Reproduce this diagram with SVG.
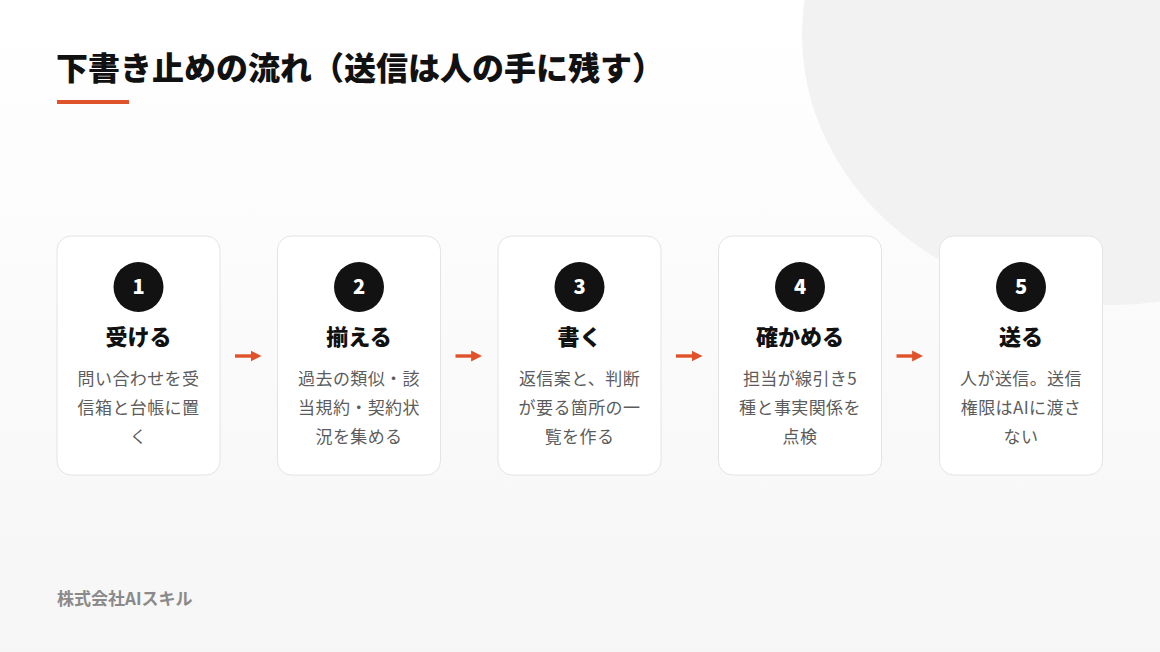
<svg xmlns="http://www.w3.org/2000/svg" width="1160" height="652" viewBox="0 0 1160 652">
  <defs>
    <linearGradient id="bg" x1="0" y1="0" x2="0" y2="1">
      <stop offset="0" stop-color="#ffffff"/>
      <stop offset="1" stop-color="#f6f6f6"/>
    </linearGradient>
    <marker id="ah" viewBox="0 0 10 10" refX="4" refY="5" markerWidth="3.2" markerHeight="3.4" orient="auto" markerUnits="strokeWidth">
      <path d="M0,0 L10,5 L0,10 Z" fill="#e0522a"/>
    </marker>
    <style>
      .jp { font-family: "Noto Sans CJK JP", "Noto Sans", sans-serif; }
      .card { fill: #ffffff; stroke: #e4e4e4; stroke-width: 1; }
      .badge { fill: #121212; }
      .num { font-family: "Noto Sans CJK JP", "Noto Sans", sans-serif; font-size: 20px; font-weight: 900; fill: #ffffff; text-anchor: middle; }
      .ttl { font-family: "Noto Sans CJK JP", sans-serif; font-size: 22px; font-weight: 900; fill: #111111; text-anchor: middle; }
      .desc { font-family: "Noto Sans CJK JP", sans-serif; font-size: 17px; font-weight: 400; fill: #5c5c5c; text-anchor: middle; letter-spacing: 0.4px; }
      .conn { stroke: #e0522a; stroke-width: 3.4; fill: none; }
    </style>
  </defs>

  <rect x="0" y="0" width="1160" height="652" fill="url(#bg)"/>
  <ellipse cx="1110" cy="35" rx="308" ry="270" fill="#f2f2f2"/>

  <g id="title">
    <text x="56" y="80" class="jp" font-size="32" font-weight="900" fill="#111111">下書き止めの流れ（送信は人の手に残す）</text>
    <rect x="57" y="100" width="72" height="4" fill="#e0522a"/>
  </g>

  <g id="node1">
    <rect class="card" x="57" y="236" width="163" height="239" rx="14"/>
    <circle class="badge" cx="138.5" cy="287" r="25"/>
    <text class="num" x="138.5" y="294">1</text>
    <text class="ttl" x="138.5" y="345">受ける</text>
    <text class="desc" x="138.5" y="385">問い合わせを受</text>
    <text class="desc" x="138.5" y="414">信箱と台帳に置</text>
    <text class="desc" x="138.5" y="443">く</text>
  </g>

  <g id="node2">
    <rect class="card" x="277.5" y="236" width="163" height="239" rx="14"/>
    <circle class="badge" cx="359" cy="287" r="25"/>
    <text class="num" x="359" y="294">2</text>
    <text class="ttl" x="359" y="345">揃える</text>
    <text class="desc" x="359" y="385">過去の類似・該</text>
    <text class="desc" x="359" y="414">当規約・契約状</text>
    <text class="desc" x="359" y="443">況を集める</text>
  </g>

  <g id="node3">
    <rect class="card" x="498" y="236" width="163" height="239" rx="14"/>
    <circle class="badge" cx="579.5" cy="287" r="25"/>
    <text class="num" x="579.5" y="294">3</text>
    <text class="ttl" x="579.5" y="345">書く</text>
    <text class="desc" x="579.5" y="385">返信案と、判断</text>
    <text class="desc" x="579.5" y="414">が要る箇所の一</text>
    <text class="desc" x="579.5" y="443">覧を作る</text>
  </g>

  <g id="node4">
    <rect class="card" x="718.5" y="236" width="163" height="239" rx="14"/>
    <circle class="badge" cx="800" cy="287" r="25"/>
    <text class="num" x="800" y="294">4</text>
    <text class="ttl" x="800" y="345">確かめる</text>
    <text class="desc" x="800" y="385">担当が線引き5</text>
    <text class="desc" x="800" y="414">種と事実関係を</text>
    <text class="desc" x="800" y="443">点検</text>
  </g>

  <g id="node5">
    <rect class="card" x="939.5" y="236" width="163" height="239" rx="14"/>
    <circle class="badge" cx="1021" cy="287" r="25"/>
    <text class="num" x="1021" y="294">5</text>
    <text class="ttl" x="1021" y="345">送る</text>
    <text class="desc" x="1021" y="385">人が送信。送信</text>
    <text class="desc" x="1021" y="414">権限はAIに渡さ</text>
    <text class="desc" x="1021" y="443">ない</text>
  </g>

  <g id="connectors">
    <path class="conn" d="M235,356 H255" marker-end="url(#ah)"/>
    <path class="conn" d="M455.5,356 H475.5" marker-end="url(#ah)"/>
    <path class="conn" d="M676,356 H696" marker-end="url(#ah)"/>
    <path class="conn" d="M896.5,356 H916.5" marker-end="url(#ah)"/>
  </g>

  <g id="footer">
    <text x="57" y="605" class="jp" font-size="17" font-weight="700" fill="#8a8a8a">株式会社AIスキル</text>
  </g>
</svg>
